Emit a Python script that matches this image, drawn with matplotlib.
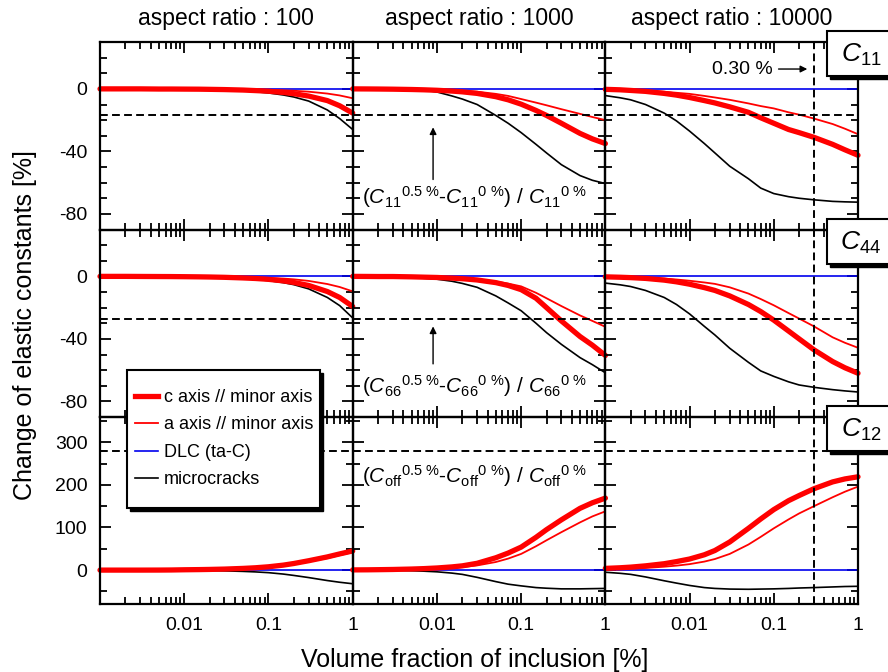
import matplotlib.pyplot as plt
from matplotlib.patches import Rectangle
from matplotlib.lines import Line2D
from matplotlib.ticker import FixedLocator, MultipleLocator, LogLocator, NullFormatter

plt.rcParams['font.family'] = ['Liberation Sans', 'DejaVu Sans']
plt.rcParams['mathtext.fontset'] = 'custom'
plt.rcParams['mathtext.rm'] = 'Liberation Sans'
plt.rcParams['mathtext.it'] = 'Liberation Sans:italic'
plt.rcParams['axes.unicode_minus'] = False

# volume fraction of inclusion [%]
frac = [0.001, 0.0015, 0.002, 0.003, 0.005, 0.007, 0.01, 0.015, 0.02, 0.03,
        0.05, 0.07, 0.1, 0.15, 0.2, 0.3, 0.5, 0.7, 1.0]

dlc = [0, 0, 0, 0, 0, 0, 0, 0, 0, 0, 0, 0, 0, 0, 0, 0, 0, 0, 0]

# C11
c11_ar100_c = [0, 0, 0, 0, -0.1, -0.1, -0.15, -0.2, -0.3, -0.45, -0.75, -1.1, -1.5, -2.3, -3.1, -4.6, -7.5, -10.8, -15.5]
c11_ar100_a = [0, 0, 0, 0, 0, 0, -0.06, -0.1, -0.12, -0.2, -0.3, -0.4, -0.6, -0.9, -1.2, -1.8, -3.0, -4.2, -6.0]
c11_ar100_crack = [0, 0, 0, 0, -0.1, -0.2, -0.25, -0.4, -0.5, -0.8, -1.3, -1.8, -2.6, -3.9, -5.2, -7.8, -13.5, -19, -26]
c11_ar1000_c = [0, -0.05, -0.1, -0.2, -0.4, -0.6, -0.9, -1.4, -1.9, -2.9, -5.0, -7.0, -9.8, -13.8, -17, -22, -28.5, -32, -35]
c11_ar1000_a = [0, -0.03, -0.06, -0.1, -0.25, -0.35, -0.6, -0.9, -1.2, -1.8, -3.2, -4.5, -6.5, -8.8, -10.5, -13, -16, -18, -20]
c11_ar1000_crack = [0, 0, -0.1, -0.2, -0.4, -0.8, -2.0, -4.5, -6.5, -10, -17, -22, -28, -35.5, -41, -48.5, -55.5, -58.5, -60.6]
c11_ar10000_c = [-0.3, -0.6, -1.0, -1.6, -2.9, -4.0, -5.5, -7.5, -9, -11.5, -15, -18.5, -22, -26, -28, -31, -35.5, -39, -42.5]
c11_ar10000_a = [-0.2, -0.4, -0.6, -1.0, -1.8, -2.5, -3.2, -4.5, -5.5, -7, -9.3, -11, -12.5, -15, -16.5, -19, -22.5, -25.5, -29]
c11_ar10000_crack = [-4.3, -5.7, -7, -10, -15.5, -20.5, -27, -35, -41, -49.5, -57.5, -63.5, -67, -69, -70, -71, -72, -72.3, -72.5]

# C44
c44_ar100_c = [0, 0, 0, -0.05, -0.1, -0.13, -0.2, -0.3, -0.4, -0.6, -1.0, -1.35, -1.9, -2.9, -3.9, -5.8, -9.7, -13.5, -19.3]
c44_ar100_a = [0, 0, 0, 0, -0.05, -0.07, -0.1, -0.15, -0.2, -0.3, -0.5, -0.7, -1.0, -1.4, -1.9, -2.9, -4.9, -6.8, -9.6]
c44_ar100_crack = [0, 0, 0, -0.1, -0.13, -0.2, -0.27, -0.4, -0.5, -0.8, -1.3, -1.9, -2.7, -4, -5.3, -8, -13.5, -18.7, -26.6]
c44_ar1000_c = [0, -0.05, -0.1, -0.1, -0.3, -0.5, -0.7, -1.1, -1.5, -2.3, -4, -5.8, -8.5, -14, -20, -28.5, -38.5, -44, -50.6]
c44_ar1000_a = [0, 0, 0, -0.1, -0.2, -0.35, -0.5, -0.85, -1.2, -2, -3.3, -4.6, -6.4, -10.5, -14, -19, -25, -28.5, -32.3]
c44_ar1000_crack = [0, -0.1, -0.2, -0.4, -0.8, -1.2, -1.8, -3.1, -4.5, -7, -12.5, -17, -22, -30, -36, -43.5, -52, -56.5, -61.7]
c44_ar10000_c = [-0.3, -0.55, -0.8, -1.3, -2.4, -3.5, -5, -7.2, -9, -12.5, -18, -22.5, -28, -35, -40, -47, -54.5, -58.5, -62]
c44_ar10000_a = [-0.2, -0.35, -0.5, -0.8, -1.4, -2, -2.8, -3.9, -4.8, -7, -11, -14.5, -18.5, -23.5, -27, -32, -39, -42.5, -45.7]
c44_ar10000_crack = [-4.3, -5.4, -6.5, -9, -13.5, -18, -24, -32, -37.5, -46, -55, -60.5, -64, -67.5, -69.5, -71, -72.5, -73.3, -74]

# C12
c12_ar100_c = [0, 0, 0, 0, 0.1, 0.3, 0.8, 1.2, 1.6, 2.4, 4, 5.5, 7.8, 11.7, 15.5, 22, 31, 38, 45]
c12_ar100_a = [0, 0, 0, 0, 0.1, 0.3, 0.7, 1.0, 1.4, 2.1, 3.5, 5, 7, 10.5, 14, 20, 28, 35, 42]
c12_ar100_crack = [0, 0, 0, 0, -0.1, -0.3, -0.6, -0.9, -1.2, -1.8, -3, -4.2, -6, -9.3, -12.5, -17.5, -24.5, -28.5, -32]
c12_ar1000_c = [0.5, 0.7, 1, 1.5, 2.5, 3.5, 5, 7.5, 10, 16, 29, 40, 54, 77, 95, 118, 145, 158, 169]
c12_ar1000_a = [0.3, 0.45, 0.6, 1, 1.8, 2.5, 3.5, 5.2, 7, 11, 19, 27, 38, 56, 70, 89, 112, 126, 138]
c12_ar1000_crack = [0, -0.1, -0.3, -0.6, -1.5, -2.5, -4, -7, -10, -17, -27, -33, -37, -41, -42.5, -44, -44, -43.5, -43]
c12_ar10000_c = [4, 5.5, 7, 10, 15, 20, 26, 36, 46, 66, 98, 120, 142, 163, 175, 191, 207, 214, 219]
c12_ar10000_a = [2, 2.8, 3.5, 5, 8, 10.5, 14, 20, 26, 38, 60, 78, 98, 119, 133, 150, 171, 184, 196]
c12_ar10000_crack = [-5, -7.5, -10, -16, -25, -30.5, -36, -41, -43, -44.5, -45, -44.5, -44, -43, -42, -41, -39.5, -38.5, -38]

aspect_ratios = ['100', '1000', '10000']
constants = ['11', '44', '12']
ref_level = [-17, -27, 280]
threshold = 0.30

panels = [
    [(c11_ar100_c, c11_ar100_a, c11_ar100_crack),
     (c11_ar1000_c, c11_ar1000_a, c11_ar1000_crack),
     (c11_ar10000_c, c11_ar10000_a, c11_ar10000_crack)],
    [(c44_ar100_c, c44_ar100_a, c44_ar100_crack),
     (c44_ar1000_c, c44_ar1000_a, c44_ar1000_crack),
     (c44_ar10000_c, c44_ar10000_a, c44_ar10000_crack)],
    [(c12_ar100_c, c12_ar100_a, c12_ar100_crack),
     (c12_ar1000_c, c12_ar1000_a, c12_ar1000_crack),
     (c12_ar10000_c, c12_ar10000_a, c12_ar10000_crack)],
]

W, H = 888, 672
fig = plt.figure(figsize=(W / 100, H / 100), dpi=100)

lefts = [100, 352.7, 605.3]
tops = [42, 229.5, 416.7]
pw, ph = 252.7, 187.5

dash = (0, (4, 2.2))
axes = [[None] * 3 for _ in range(3)]
for r in range(3):
    for c in range(3):
        ax = fig.add_axes([lefts[c] / W, 1 - (tops[r] + ph) / H, pw / W, ph / H])
        ax.patch.set_visible(False)
        axes[r][c] = ax
        cc, aa, cr = panels[r][c]
        ax.plot(frac, cr, color='black', lw=1.2)
        ax.plot(frac, dlc, color='#0000ee', lw=1.2)
        ax.plot(frac, aa, color='#ff0000', lw=1.3)
        ax.plot(frac, cc, color='#ff0000', lw=3.8, solid_capstyle='round', clip_on=False)
        ax.axhline(ref_level[r], color='black', ls=dash, lw=1.4)
        if c == 2:
            ax.axvline(threshold, color='black', ls=dash, lw=1.4)
        ax.set_xscale('log')
        ax.set_xlim(0.001, 1)
        if r < 2:
            ax.set_ylim(-90, 30)
            ax.yaxis.set_major_locator(FixedLocator([-80, -40, 0]))
            ax.yaxis.set_minor_locator(MultipleLocator(10))
        else:
            ax.set_ylim(-80, 360)
            ax.yaxis.set_major_locator(FixedLocator([0, 100, 200, 300]))
            ax.yaxis.set_minor_locator(MultipleLocator(50))
        ax.xaxis.set_major_locator(FixedLocator([0.001, 0.01, 0.1, 1]))
        ax.xaxis.set_minor_locator(LogLocator(base=10, subs=range(2, 10)))
        ax.xaxis.set_minor_formatter(NullFormatter())
        if r == 2:
            ax.set_xticklabels(['', '0.01', '0.1', '1'])
        else:
            ax.set_xticklabels([])
        if c != 0:
            ax.set_yticklabels([])
        ax.tick_params(which='both', direction='in', top=True, right=True, width=1.3,
                       labelsize=14)
        ax.tick_params(which='major', length=8, pad=9)
        ax.tick_params(which='minor', length=5)
        for s in ax.spines.values():
            s.set_linewidth(1.6)

# column titles
for c in range(3):
    fig.text((lefts[c] + pw / 2) / W, 1 - 18.5 / H, 'aspect ratio : ' + aspect_ratios[c],
             ha='center', va='center', fontsize=16.5)

fig.text(25 / W, 1 - 325 / H, 'Change of elastic constants [%]', rotation=90,
         ha='center', va='center', fontsize=18)
fig.text(475 / W, 1 - 660 / H, 'Volume fraction of inclusion [%]',
         ha='center', va='center', fontsize=18)

# formula annotations in the middle column
arrow = dict(arrowstyle='-|>', color='black', lw=1, mutation_scale=10, shrinkA=0, shrinkB=0)
ax = axes[0][1]
ax.text(0.48, 0.173, r'$(C_{11}{}^{0.5\ \%}$-$C_{11}{}^{0\ \%})$ / $C_{11}{}^{0\ \%}$',
        transform=ax.transAxes, ha='center', va='center', fontsize=15)
ax.annotate('', xy=(0.009, -24.6), xytext=(0.009, -58), arrowprops=arrow)
ax = axes[1][1]
ax.text(0.48, 0.164, r'$(C_{66}{}^{0.5\ \%}$-$C_{66}{}^{0\ \%})$ / $C_{66}{}^{0\ \%}$',
        transform=ax.transAxes, ha='center', va='center', fontsize=15)
ax.annotate('', xy=(0.009, -32), xytext=(0.009, -56), arrowprops=arrow)
ax = axes[2][1]
ax.text(0.48, 0.684,
        r'$(C_{\mathrm{off}}{}^{0.5\ \%}$-$C_{\mathrm{off}}{}^{0\ \%})$ / $C_{\mathrm{off}}{}^{0\ \%}$',
        transform=ax.transAxes, ha='center', va='center', fontsize=15)

# 0.30 % marker
ax = axes[0][2]
ax.text(0.098, 12.7, '0.30 %', ha='right', va='center', fontsize=14)
ax.annotate('', xy=(0.25, 12.7), xytext=(0.114, 12.7), arrowprops=arrow)

# constant labels in boxes on the right edge
for r in range(3):
    top = tops[r] - 11
    bw, bh = 100, 45
    fig.add_artist(Rectangle(((827 + 3) / W, 1 - (top + bh + 3) / H), bw / W, bh / H,
                             transform=fig.transFigure, facecolor='black',
                             edgecolor='black', zorder=10))
    fig.add_artist(Rectangle((827 / W, 1 - (top + bh) / H), bw / W, bh / H,
                             transform=fig.transFigure, facecolor='white',
                             edgecolor='black', lw=1.5, zorder=11))
    fig.text(861 / W, 1 - (top + 24) / H, r'$C_{' + constants[r] + '}$',
             ha='center', va='center', fontsize=19, zorder=12)

# legend box with shadow
lx0, ly0, lx1, ly1 = 126.7, 370, 320, 508
fig.add_artist(Rectangle(((lx0 + 3) / W, 1 - (ly1 + 3) / H), (lx1 - lx0) / W, (ly1 - ly0) / H,
                         transform=fig.transFigure, facecolor='black', edgecolor='black',
                         zorder=10))
fig.add_artist(Rectangle((lx0 / W, 1 - ly1 / H), (lx1 - lx0) / W, (ly1 - ly0) / H,
                         transform=fig.transFigure, facecolor='white', edgecolor='black',
                         lw=1.5, zorder=11))

handles = [Line2D([], [], color='#ff0000', lw=3.8),
           Line2D([], [], color='#ff0000', lw=1.3),
           Line2D([], [], color='#0000ee', lw=1.2),
           Line2D([], [], color='black', lw=1.2)]
labels = ['c axis // minor axis', 'a axis // minor axis', 'DLC (ta-C)', 'microcracks']
leg = fig.legend(handles, labels, loc='upper left',
                 bbox_to_anchor=(135 / W, 1 - 389 / H), fontsize=13, frameon=False,
                 handlelength=1.25, handletextpad=0.35, labelspacing=0.58,
                 borderpad=0, borderaxespad=0)
leg.set_zorder(20)

fig.savefig('out.png', dpi=100)
